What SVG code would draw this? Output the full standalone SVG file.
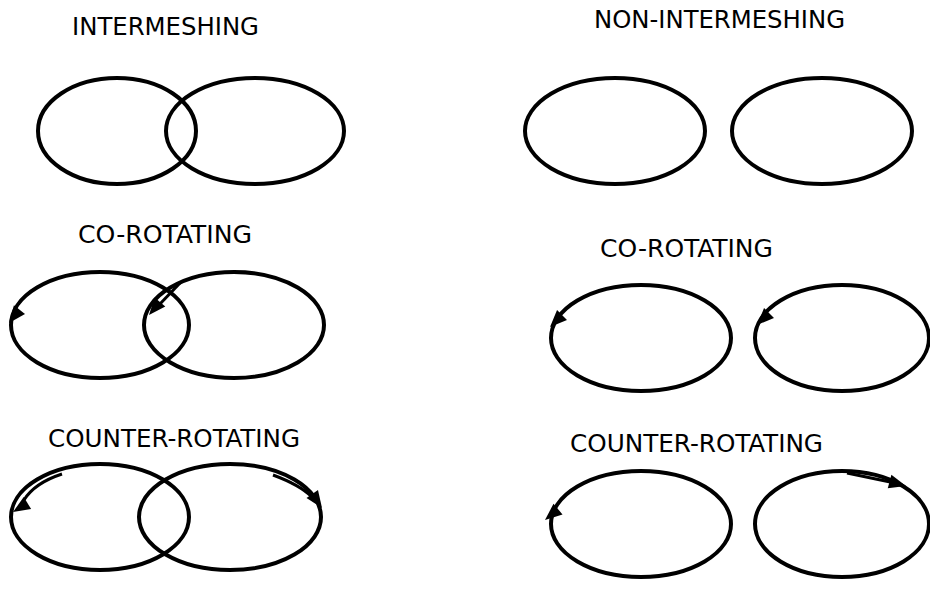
<svg xmlns="http://www.w3.org/2000/svg" xmlns:xlink="http://www.w3.org/1999/xlink" width="930" height="594" viewBox="0 0 930 594">
<style>
.e{fill:none;stroke:#000;stroke-width:4}
.l{fill:none;stroke:#000;stroke-width:3}
.t{font-family:"DejaVu Sans Condensed","DejaVu Sans",sans-serif;font-size:24px;fill:#000}
</style>
<defs>
<path id="ah" d="M0,0 L-17,-7 L-17,7 Z" fill="#000"/>
</defs>
<rect width="930" height="594" fill="#fff"/>
<g id="labels">
<text class="t" x="72" y="35" textLength="187" lengthAdjust="spacingAndGlyphs">INTERMESHING</text>
<text class="t" x="594" y="28" textLength="251" lengthAdjust="spacingAndGlyphs">NON-INTERMESHING</text>
<text class="t" x="78" y="243" textLength="174" lengthAdjust="spacingAndGlyphs">CO-ROTATING</text>
<text class="t" x="600" y="257" textLength="173" lengthAdjust="spacingAndGlyphs">CO-ROTATING</text>
<text class="t" x="48" y="447" textLength="252" lengthAdjust="spacingAndGlyphs">COUNTER-ROTATING</text>
<text class="t" x="570" y="452" textLength="253" lengthAdjust="spacingAndGlyphs">COUNTER-ROTATING</text>
</g>
<g id="int-plain">
<ellipse class="e" cx="117" cy="131" rx="79" ry="53"/>
<ellipse class="e" cx="255" cy="131" rx="89" ry="53"/>
</g>
<g id="non-plain">
<ellipse class="e" cx="615" cy="131" rx="90" ry="53"/>
<ellipse class="e" cx="822" cy="131" rx="90" ry="53"/>
</g>
<g id="int-co">
<ellipse class="e" cx="100" cy="325" rx="89" ry="53"/>
<ellipse class="e" cx="234" cy="325" rx="90" ry="53"/>
</g>
<g id="non-co">
<ellipse class="e" cx="641" cy="338" rx="90" ry="53"/>
<ellipse class="e" cx="842" cy="338" rx="87" ry="53"/>
</g>
<g id="int-counter">
<ellipse class="e" cx="100" cy="517" rx="89" ry="53"/>
<ellipse class="e" cx="230" cy="517" rx="91" ry="53"/>
</g>
<g id="non-counter">
<ellipse class="e" cx="641" cy="524" rx="90" ry="53"/>
<ellipse class="e" cx="842" cy="524" rx="87" ry="53"/>
</g>
<g id="connectors">
<use xlink:href="#ah" transform="translate(9,323) rotate(128)"/>
<path class="l" d="M181,282 L158,306"/>
<use xlink:href="#ah" transform="translate(149,315) rotate(130)"/>
<path class="l" d="M62,474 A85,49 0 0 0 24,500"/>
<use xlink:href="#ah" transform="translate(13,512) rotate(148)"/>
<path class="l" d="M273,475 Q300,485 312,497"/>
<use xlink:href="#ah" transform="translate(322,508) rotate(55)"/>
<use xlink:href="#ah" transform="translate(550,327) rotate(135)"/>
<use xlink:href="#ah" transform="translate(757,325) rotate(135)"/>
<use xlink:href="#ah" transform="translate(545,520) rotate(140)"/>
<path class="l" d="M847,473 L895,483"/>
<use xlink:href="#ah" transform="translate(906,486) rotate(15)"/>
</g>
</svg>
